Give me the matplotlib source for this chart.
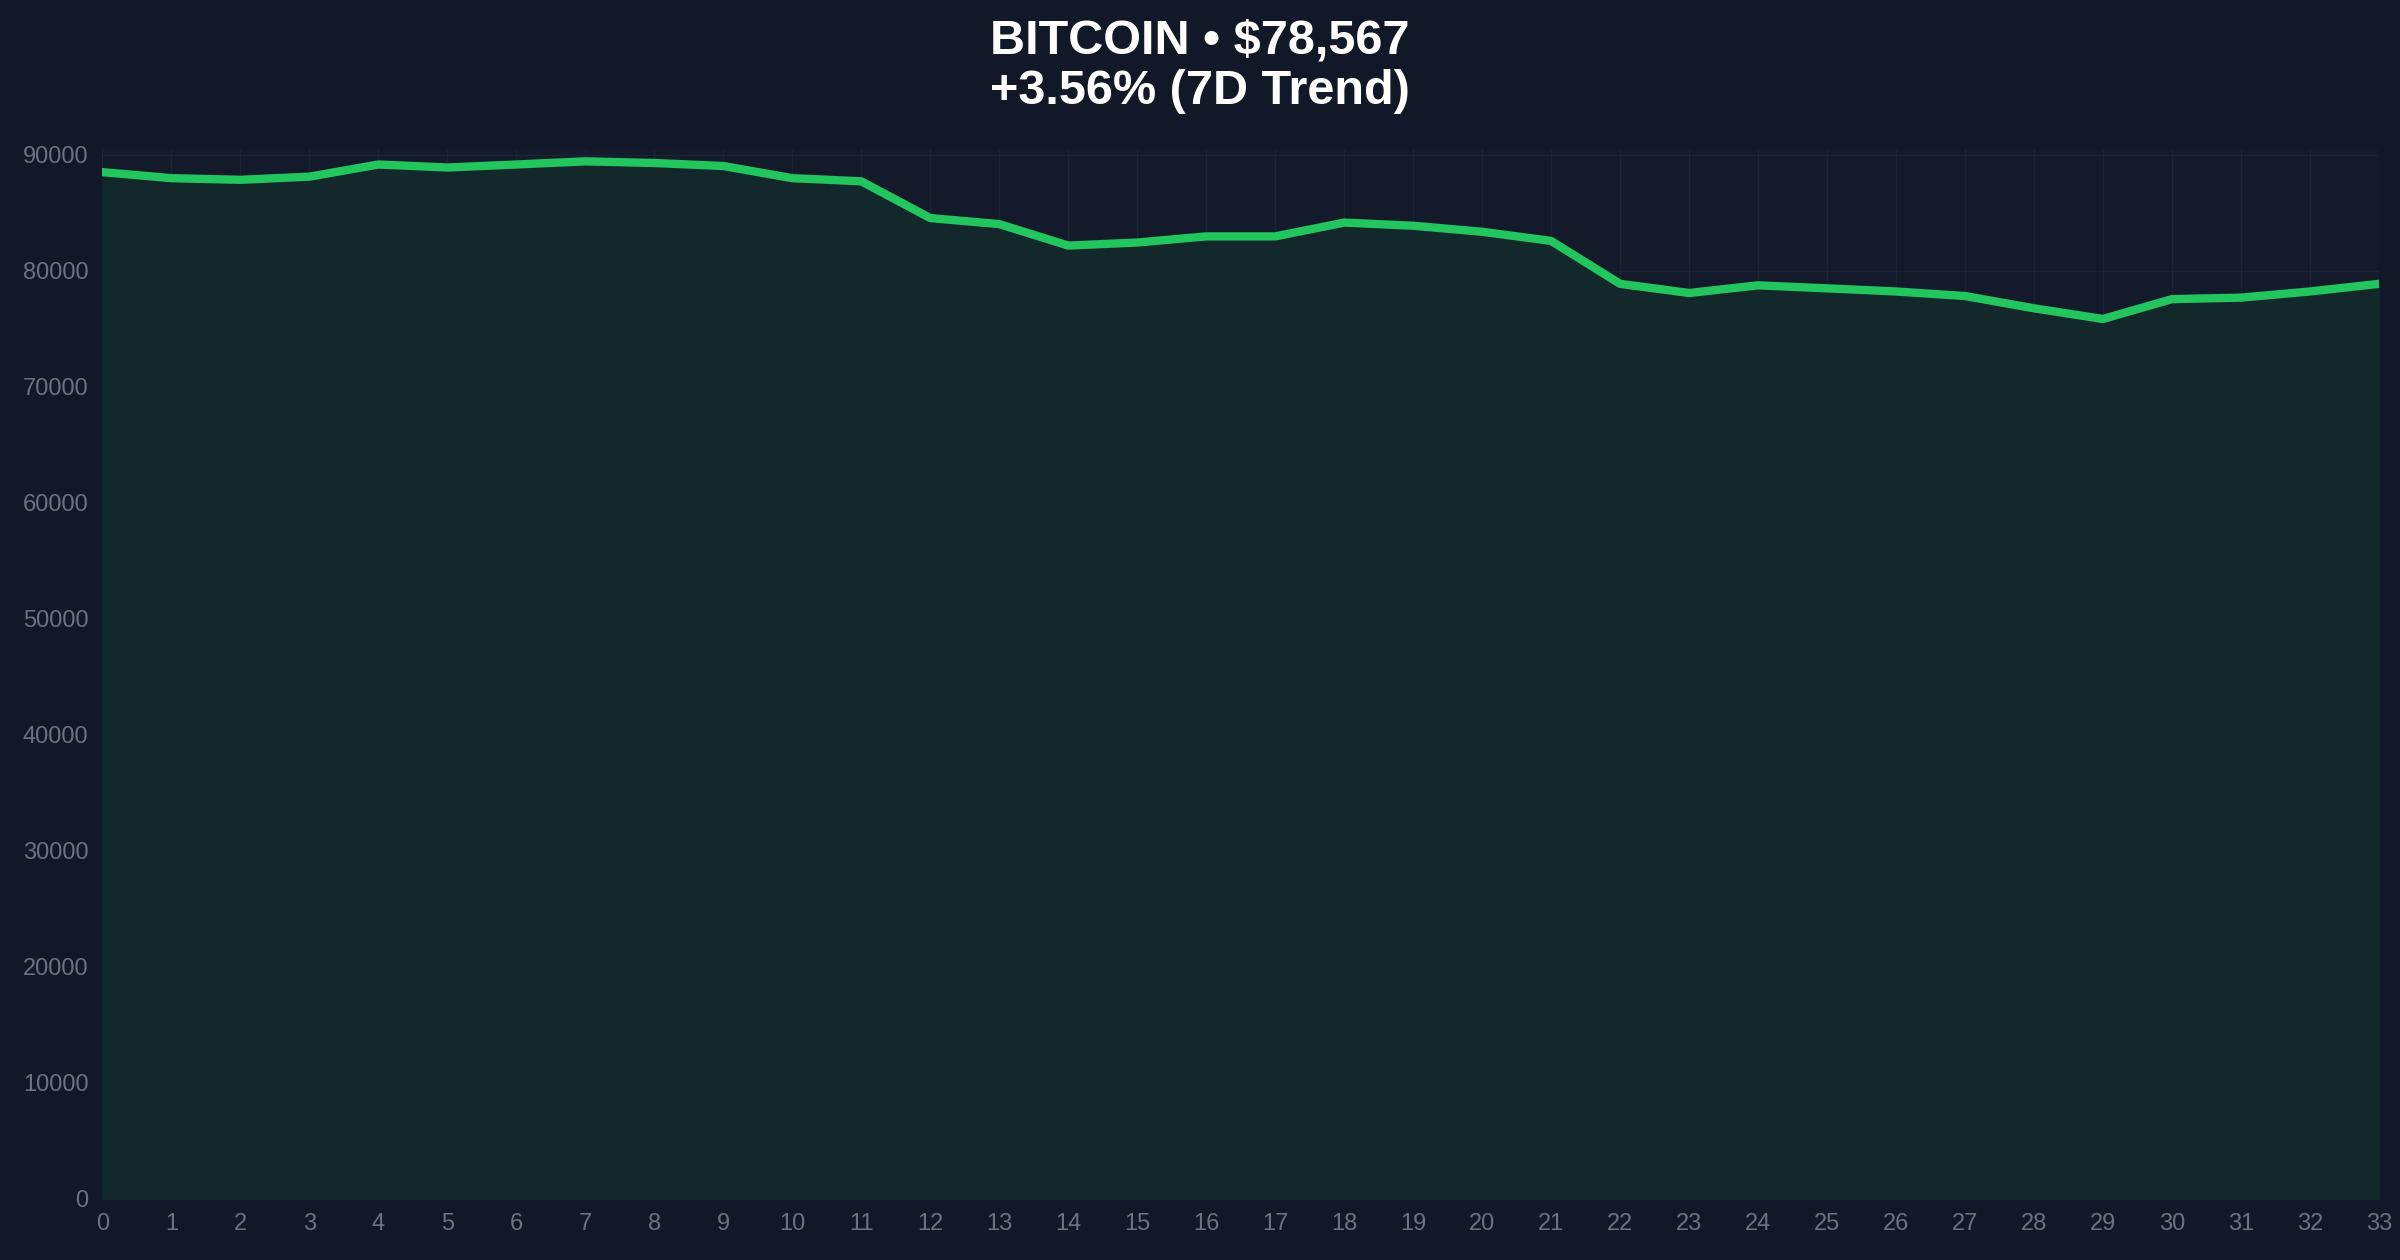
import matplotlib
matplotlib.use("Agg")
import matplotlib.pyplot as plt

days = list(range(34))
prices = [88520, 88000, 87860, 88130, 89180, 88920, 89180, 89450, 89310, 89050,
          88000, 87730, 84560, 84040, 82190, 82450, 82980, 82980, 84170, 83900,
          83380, 82590, 78890, 78100, 78760, 78500, 78230, 77840, 76780, 75860,
          77570, 77700, 78230, 78890]
yticks = list(range(0, 90001, 10000))
title = "BITCOIN • $78,567\n+3.56% (7D Trend)"

plt.rcParams['font.family'] = ['Liberation Sans', 'DejaVu Sans']
fig = plt.figure(figsize=(24, 12.6), dpi=100, facecolor='#111827')
ax = fig.add_axes([0.0427, 0.0486, 0.9485, 0.833])
ax.set_facecolor('#131b2b')
ax.fill_between(days, prices, 0, color='#12282b', zorder=1)
ax.plot(days, prices, color='#22c55e', lw=6, zorder=3, solid_joinstyle='round')
ax.set_xlim(0, 33)
ax.set_ylim(0, 90500)
ax.set_xticks(days)
ax.set_yticks(yticks)
ax.tick_params(colors='#6b7280', labelsize=17, length=0, pad=10)
ax.grid(True, color='#1f2937', lw=1, zorder=0, alpha=0.7)
ax.set_axisbelow(True)
for s in ax.spines.values():
    s.set_visible(False)
fig.text(0.5, 0.985, title, ha='center', va='top', color='white',
         fontsize=35, fontweight='bold', linespacing=1.15)
fig.savefig('out.png', facecolor=fig.get_facecolor())
